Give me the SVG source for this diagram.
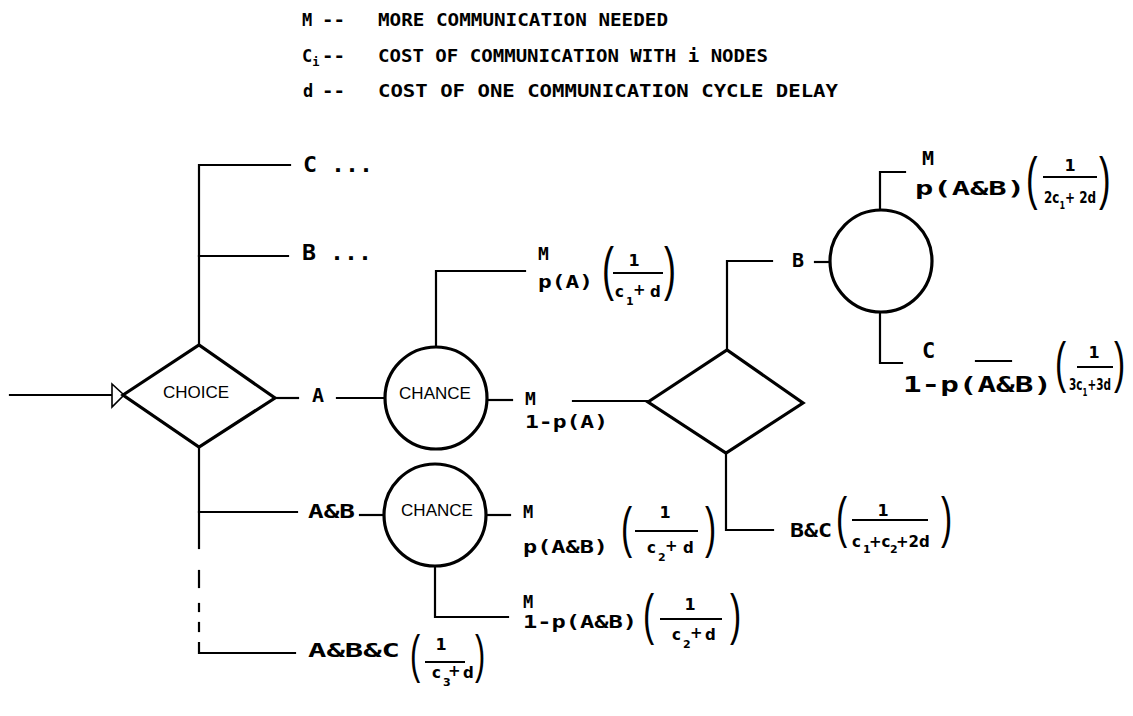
<svg xmlns="http://www.w3.org/2000/svg" width="1133" height="716" viewBox="0 0 1133 716">
<style>
.bg{fill:#fff}
.ln{fill:none;stroke:#000;stroke-width:2.2;stroke-linecap:square}
.bar{fill:none;stroke:#000;stroke-width:1.8}
.shape{fill:#fff;stroke:#000;stroke-width:3.2}
.nt{font-family:"Liberation Sans",Arial,sans-serif;font-size:17px;fill:#000;text-anchor:middle}
.lbl{font-family:"DejaVu Sans Mono","Liberation Mono",monospace;font-weight:bold;fill:#000}
.leg{font-family:"DejaVu Sans Mono","Liberation Mono",monospace;font-weight:bold;font-size:17px;fill:#000}
.fr{font-family:"DejaVu Sans",sans-serif;font-weight:bold;fill:#000;font-size:15px}
.num{font-family:"DejaVu Sans",sans-serif;font-weight:bold;fill:#000;font-size:16px;text-anchor:middle}
.sub{font-size:11px}
.par{font-family:"Liberation Sans",Arial,sans-serif;fill:#000}
</style>
<rect class="bg" x="0" y="0" width="1133" height="716"/>

<g id="legend">
<text class="leg" x="302" y="26">M</text>
<text class="leg" x="322" y="26" textLength="23" lengthAdjust="spacingAndGlyphs">--</text>
<text class="leg" x="378" y="26" textLength="290" lengthAdjust="spacingAndGlyphs">MORE COMMUNICATION NEEDED</text>
<text class="leg" x="302" y="62">C<tspan font-size="12" dy="4">i</tspan></text>
<text class="leg" x="322" y="62" textLength="23" lengthAdjust="spacingAndGlyphs">--</text>
<text class="leg" x="378" y="62" textLength="390" lengthAdjust="spacingAndGlyphs">COST OF COMMUNICATION WITH i NODES</text>
<text class="leg" x="303" y="97">d</text>
<text class="leg" x="322" y="97" textLength="23" lengthAdjust="spacingAndGlyphs">--</text>
<text class="leg" x="378" y="97" textLength="460" lengthAdjust="spacingAndGlyphs">COST OF ONE COMMUNICATION CYCLE DELAY</text>
</g>

<g id="connectors">
<path class="ln" d="M10 395 H112"/>
<polygon points="112,384 112,407 124,395" fill="#fff" stroke="#000" stroke-width="1.6"/>
<path class="ln" d="M199 345 V165 H290"/>
<path class="ln" d="M199 256 H288"/>
<path class="ln" d="M275 398 H298"/>
<path class="ln" d="M337 398 H385"/>
<path class="ln" d="M436 347 V271 H525"/>
<path class="ln" d="M487 400 H512"/>
<path class="ln" d="M573 401 H648"/>
<path class="ln" d="M727 350 V261 H772"/>
<path class="ln" d="M815 262 H830"/>
<path class="ln" d="M880 210 V172 H905"/>
<path class="ln" d="M880 312 V363 H902"/>
<path class="ln" d="M976 361 H1011"/>
<path class="ln" d="M726 453 V530 H773"/>
<path class="ln" d="M199 447 V548"/>
<path class="ln" d="M199 571 V587"/>
<path class="ln" d="M199 604 V611"/>
<path class="ln" d="M199 623 V631"/>
<path class="ln" d="M199 643 V653 H295"/>
<path class="ln" d="M199 512 H297"/>
<path class="ln" d="M360 515 H383"/>
<path class="ln" d="M486 515 H510"/>
<path class="ln" d="M435 567 V617 H508"/>
</g>

<g id="choice">
<polygon class="shape" points="123,395 199,345 275,398 199,447"/>
<text class="nt" x="196" y="398">CHOICE</text>
</g>
<g id="chance1">
<circle class="shape" cx="436" cy="398" r="51"/>
<text class="nt" x="435" y="399">CHANCE</text>
</g>
<g id="chance2">
<circle class="shape" cx="435" cy="515" r="51"/>
<text class="nt" x="437" y="516">CHANCE</text>
</g>
<g id="decision2">
<polygon class="shape" points="648,402 727,350 803,403 726,453"/>
</g>
<g id="chance3">
<circle class="shape" cx="881" cy="261" r="51"/>
</g>

<g id="labels">
<text class="lbl" x="303" y="172" font-size="22" textLength="70" lengthAdjust="spacingAndGlyphs">C ...</text>
<text class="lbl" x="302" y="260" font-size="22" textLength="70" lengthAdjust="spacingAndGlyphs">B ...</text>
<text class="lbl" x="312" y="402" font-size="20">A</text>

<!-- chance1 top -->
<text class="lbl" x="538" y="260" font-size="18">M</text>
<text class="lbl" x="538" y="288" font-size="18" textLength="55" lengthAdjust="spacingAndGlyphs">p(A)</text>
<text class="par" font-size="60" transform="translate(602 289) scale(0.6 1)">(</text>
<text class="num" x="634" y="266">1</text>
<path class="bar" d="M613 273 H663"/>
<text class="fr" x="615" y="297">c</text><text class="fr sub" x="626" y="305">1</text><text class="fr" x="633" y="295">+</text><text class="fr" x="650" y="297">d</text>
<text class="par" font-size="60" transform="translate(664 289) scale(0.6 1)">)</text>

<!-- chance1 right -->
<text class="lbl" x="525" y="405" font-size="18">M</text>
<text class="lbl" x="525" y="428" font-size="18" textLength="83" lengthAdjust="spacingAndGlyphs">1-p(A)</text>

<!-- decision2 top -->
<text class="lbl" x="792" y="267" font-size="20">B</text>

<!-- chance3 top -->
<text class="lbl" x="922" y="165" font-size="20">M</text>
<text class="lbl" x="915" y="195" font-size="20" textLength="110" lengthAdjust="spacingAndGlyphs">p(A&amp;B)</text>
<text class="par" font-size="58" transform="translate(1026 198) scale(0.6 1)">(</text>
<text class="num" x="1070" y="171">1</text>
<path class="bar" d="M1043 177 H1097"/>
<text class="fr" x="1044" y="203" font-size="14" textLength="52" lengthAdjust="spacingAndGlyphs">2c<tspan font-size="10" dy="6">1</tspan><tspan dy="-6">+ 2d</tspan></text>
<text class="par" font-size="58" transform="translate(1099 198) scale(0.6 1)">)</text>

<!-- chance3 bottom -->
<text class="lbl" x="922" y="358" font-size="22">C</text>
<text class="lbl" x="903" y="392" font-size="22" textLength="149" lengthAdjust="spacingAndGlyphs">1-p(A&amp;B)</text>
<text class="par" font-size="56" transform="translate(1055 381) scale(0.6 1)">(</text>
<text class="num" x="1094" y="358">1</text>
<path class="bar" d="M1077 367 H1113"/>
<text class="fr" x="1069" y="390" font-size="13" textLength="42" lengthAdjust="spacingAndGlyphs">3c<tspan font-size="10" dy="6">1</tspan><tspan dy="-6">+3d</tspan></text>
<text class="par" font-size="56" transform="translate(1114 381) scale(0.6 1)">)</text>

<!-- decision2 bottom -->
<text class="lbl" x="790" y="537" font-size="20" textLength="42" lengthAdjust="spacingAndGlyphs">B&amp;C</text>
<text class="par" font-size="56" transform="translate(836 536) scale(0.6 1)">(</text>
<text class="num" x="883" y="516">1</text>
<path class="bar" d="M852 520 H928"/>
<text class="fr" x="852" y="547">c</text><text class="fr sub" x="863" y="553">1</text><text class="fr" x="869" y="547">+c</text><text class="fr sub" x="890" y="553">2</text><text class="fr" x="896" y="547">+2d</text>
<text class="par" font-size="56" transform="translate(941 536) scale(0.6 1)">)</text>

<!-- A&B branch -->
<text class="lbl" x="308" y="518" font-size="20" textLength="47" lengthAdjust="spacingAndGlyphs">A&amp;B</text>

<!-- chance2 right -->
<text class="lbl" x="523" y="518" font-size="17">M</text>
<text class="lbl" x="523" y="553" font-size="17" textLength="85" lengthAdjust="spacingAndGlyphs">p(A&amp;B)</text>
<text class="par" font-size="56" transform="translate(621 546) scale(0.6 1)">(</text>
<text class="num" x="665" y="518">1</text>
<path class="bar" d="M635 531 H698"/>
<text class="fr" x="647" y="553">c</text><text class="fr sub" x="658" y="561">2</text><text class="fr" x="665" y="551">+</text><text class="fr" x="683" y="553">d</text>
<text class="par" font-size="56" transform="translate(705 546) scale(0.6 1)">)</text>

<!-- chance2 bottom -->
<text class="lbl" x="523" y="608" font-size="17">M</text>
<text class="lbl" x="523" y="628" font-size="17" textLength="114" lengthAdjust="spacingAndGlyphs">1-p(A&amp;B)</text>
<text class="par" font-size="56" transform="translate(643 633) scale(0.6 1)">(</text>
<text class="num" x="690" y="610">1</text>
<path class="bar" d="M660 619 H722"/>
<text class="fr" x="672" y="640">c</text><text class="fr sub" x="683" y="648">2</text><text class="fr" x="690" y="638">+</text><text class="fr" x="705" y="640">d</text>
<text class="par" font-size="56" transform="translate(730 633) scale(0.6 1)">)</text>

<!-- A&B&C -->
<text class="lbl" x="308" y="657" font-size="20" textLength="92" lengthAdjust="spacingAndGlyphs">A&amp;B&amp;C</text>
<text class="par" font-size="51" transform="translate(410 672) scale(0.6 1)">(</text>
<text class="num" x="441" y="650">1</text>
<path class="bar" d="M425 662 H465"/>
<text class="fr" x="432" y="678">c</text><text class="fr sub" x="443" y="686">3</text><text class="fr" x="448" y="676">+</text><text class="fr" x="463" y="678">d</text>
<text class="par" font-size="51" transform="translate(475 672) scale(0.6 1)">)</text>
</g>
</svg>
